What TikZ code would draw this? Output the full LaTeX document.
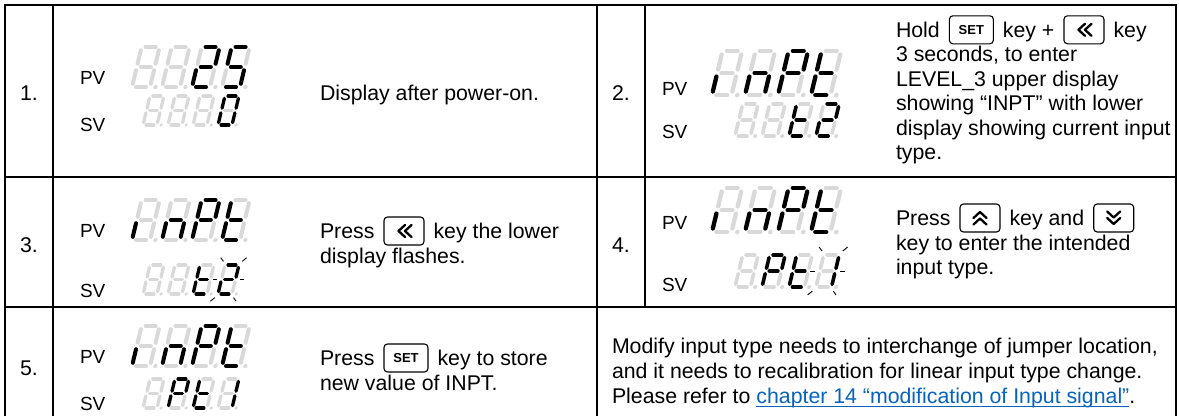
\documentclass[tikz,border=0pt]{standalone}
\usepackage{fontspec}
\setmainfont{Liberation Sans}
\usetikzlibrary{calc}
\definecolor{segg}{HTML}{D9D9D9}
\definecolor{linkblue}{HTML}{0563C1}
\makeatletter
\newcommand\sseg[3]{\in@{#1}{#2}\ifin@\def\segc{black}\else\def\segc{segg}\fi\draw[color=\segc,line cap=round] #3;}
\newcommand\sevdig[2]{%
 \begin{scope}[shift={#1}, xslant=0.24, x=\dw, y=\dh, line width=\dt]
  \sseg{a}{#2}{(0.22,2)--(0.78,2)}
  \sseg{b}{#2}{(1,1.84)--(1,1.16)}
  \sseg{c}{#2}{(1,0.84)--(1,0.16)}
  \sseg{d}{#2}{(0.22,0)--(0.78,0)}
  \sseg{e}{#2}{(0,0.16)--(0,0.84)}
  \sseg{f}{#2}{(0,1.16)--(0,1.84)}
  \sseg{g}{#2}{(0.22,1)--(0.78,1)}
  \in@{p}{#2}\ifin@\def\segc{black}\else\def\segc{segg}\fi
  \fill[color=\segc] (1.3,0) circle[radius=\dr];
 \end{scope}}
\makeatother
\newcommand\disp[7]{\sevdig{(#1,#2)}{#4}\sevdig{(#1+#3,#2)}{#5}\sevdig{(#1+2*#3,#2)}{#6}\sevdig{(#1+3*#3,#2)}{#7}}
\newcommand\flash[1]{\begin{scope}[shift={#1}, xslant=0.24, x=\dw, y=\dh, line width=0.9pt]
 \draw (-0.42,2.5)--(-0.17,2.25); \draw (1.17,2.25)--(1.42,2.5);
 \draw (-0.62,1)--(-0.32,1); \draw (1.32,1)--(1.62,1);
 \draw (-0.42,-0.5)--(-0.17,-0.25); \draw (1.17,-0.25)--(1.42,-0.5);
 \end{scope}}
\newcommand\pvL{\def\dw{18pt}\def\dh{20pt}\def\dt{4pt}\def\dr{2.1pt}}
\newcommand\svL{\def\dw{14pt}\def\dh{14.5pt}\def\dt{3.3pt}\def\dr{1.8pt}}
\newcommand\pvR{\def\dw{19.5pt}\def\dh{22pt}\def\dt{4.3pt}\def\dr{2.3pt}}
\newcommand\svR{\def\dw{15.5pt}\def\dh{16pt}\def\dt{3.6pt}\def\dr{2pt}}
\tikzset{
 tbl/.style={line width=1.6pt},
 txt/.style={inner sep=0pt, outer sep=0pt, font=\fontsize{21.3}{24.5}\selectfont, anchor=base west},
 num/.style={inner sep=0pt, outer sep=0pt, font=\fontsize{21.3}{24.5}\selectfont, anchor=base},
 lab/.style={inner sep=0pt, outer sep=0pt, font=\fontsize{19}{22}\selectfont, anchor=base west},
 keybox/.style={draw, rounded corners=3.5pt, line width=1.1pt, minimum width=40pt, minimum height=28pt, inner sep=0pt, anchor=west},
 setkey/.style={keybox, minimum width=44pt, font=\fontsize{13}{13}\selectfont\bfseries},
 chev/.style={line width=2.3pt, line cap=round, line join=round}
}
\begin{document}
\begin{tikzpicture}[x=1pt,y=-1pt]
\useasboundingbox (0,0) rectangle (1179,416);
% table
\draw[tbl] (5,416) -- (5,5) -- (1176,5) -- (1176,416);
\draw[tbl] (53,5) -- (53,416);
\draw[tbl] (597,5) -- (597,416);
\draw[tbl] (645,5) -- (645,307);
\draw[tbl] (5,177) -- (1176,177);
\draw[tbl] (5,307) -- (1176,307);
% numbers
\node[num] (n1) at (29,100.6) {1.};
\node[num] (n2) at (621,100.6) {2.};
\node[num] (n3) at (29,252.6) {3.};
\node[num] (n4) at (621,252.6) {4.};
\node[num] (n5) at (29,375.6) {5.};
% row 1
\node[lab] (pv1) at (80,84) {PV};
\node[lab] (sv1) at (80,131) {SV};
\pvL\disp{132}{87}{30}{}{}{abdeg}{acdfg}
\svL\disp{143}{125}{25}{}{}{}{abcdef}
\node[txt] (t1) at (320,100.6) {Display after power-on.};
% row 2
\node[lab] (pv2) at (662,95) {PV};
\node[lab] (sv2) at (662,138) {SV};
\pvR\disp{712}{95}{33}{e}{ceg}{abefg}{defg}
\svR\disp{735}{136}{27}{}{}{defg}{abdeg}
\node[txt] (t2a) at (896,37.4) {Hold};
\node[setkey] (k2a) at ($(t2a.base east)+(9,-7.6)$) {SET};
\node[txt] (t2b) at ($(k2a.east |- t2a.base)+(9,0)$) {key +};
\node[keybox] (k2b) at ($(t2b.base east)+(9,-7.6)$) {};
\node[txt] (t2c) at ($(k2b.east |- t2a.base)+(9,0)$) {key};
\node[txt] (t2d) at (896,61.9) {3 seconds, to enter};
\node[txt] (t2e) at (896,86.4) {LEVEL\_3 upper display};
\node[txt] (t2f) at (896,110.9) {showing “INPT” with lower};
\node[txt] (t2g) at (896,135.4) {display showing current input};
\node[txt] (t2h) at (896,159.9) {type.};
% row 3
\node[lab] (pv3) at (80,237) {PV};
\node[lab] (sv3) at (80,297) {SV};
\pvL\disp{132}{240}{30}{e}{ceg}{abefg}{defg}
\svL\disp{143}{294}{25}{}{}{defg}{abdeg}
\flash{(143+75,294)}
\node[txt] (t3a) at (320,238.6) {Press};
\node[keybox] (k3a) at ($(t3a.base east)+(9,-7.6)$) {};
\node[txt] (t3b) at ($(k3a.east |- t3a.base)+(9,0)$) {key the lower};
\node[txt] (t3c) at (320,263.1) {display flashes.};
% row 4
\node[lab] (pv4) at (662,229) {PV};
\node[lab] (sv4) at (662,291) {SV};
\pvR\disp{712}{232}{33}{e}{ceg}{abefg}{defg}
\svR\disp{735}{287}{27}{}{abefg}{defg}{bc}
\flash{(735+81,287)}
\node[txt] (t4a) at (896,225.6) {Press};
\node[keybox] (k4a) at ($(t4a.base east)+(9,-7.6)$) {};
\node[txt] (t4b) at ($(k4a.east |- t4a.base)+(9,0)$) {key and};
\node[keybox] (k4b) at ($(t4b.base east)+(9,-7.6)$) {};
\node[txt] (t4c) at (896,250.1) {key to enter the intended};
\node[txt] (t4d) at (896,274.6) {input type.};
% row 5
\node[lab] (pv5) at (80,363) {PV};
\node[lab] (sv5) at (80,410) {SV};
\pvL\disp{132}{366}{30}{e}{ceg}{abefg}{defg}
\svL\disp{143}{408}{25}{}{abefg}{defg}{bc}
\node[txt] (t5a) at (320,365.6) {Press};
\node[setkey] (k5a) at ($(t5a.base east)+(9,-7.6)$) {SET};
\node[txt] (t5b) at ($(k5a.east |- t5a.base)+(9,0)$) {key to store};
\node[txt] (t5c) at (320,390.1) {new value of INPT.};
% note
\node[txt] (m1) at (612,353.6) {Modify input type needs to interchange of jumper location,};
\node[txt] (m2) at (612,378.6) {and it needs to recalibration for linear input type change.};
\node[txt] (m3) at (612,403.6) {Please refer to};
\node[txt, text=linkblue] (lk) at ($(m3.base east)+(5.9,0)$) {chapter 14 “modification of Input signal”};
\node[txt] (m4) at (lk.base east) {.};
\draw[linkblue, line width=1.1pt] ([yshift=-2.6pt]lk.base west) -- ([yshift=-2.6pt]lk.base east);
% key glyphs
\foreach \k in {k2b,k3a}{
 \begin{scope}[shift={(\k.center)}]
  \draw[chev] (1,-6) -- (-5.5,0) -- (1,6);
  \draw[chev] (7.5,-6) -- (1,0) -- (7.5,6);
 \end{scope}}
\begin{scope}[shift={(k4a.center)}]
 \draw[chev] (-6.5,0) -- (0,-6) -- (6.5,0);
 \draw[chev] (-6.5,6.5) -- (0,0.5) -- (6.5,6.5);
\end{scope}
\begin{scope}[shift={(k4b.center)}]
 \draw[chev] (-6.5,-6.5) -- (0,-0.5) -- (6.5,-6.5);
 \draw[chev] (-6.5,0) -- (0,6) -- (6.5,0);
\end{scope}
\end{tikzpicture}
\end{document}
